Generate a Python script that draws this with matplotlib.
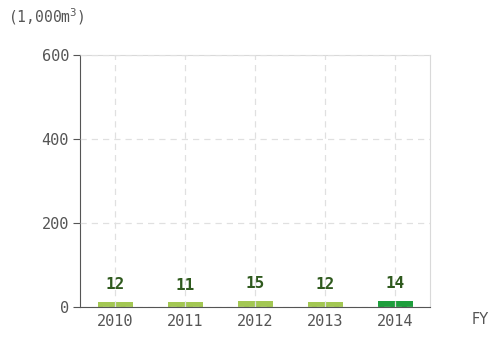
import matplotlib
matplotlib.use("Agg")
import matplotlib.pyplot as plt

years = ["2010", "2011", "2012", "2013", "2014"]
values = [12, 11, 15, 12, 14]
bar_colors = ["#a3c753", "#a3c753", "#a3c753", "#a3c753", "#1e9e3c"]
yticks = [0, 200, 400, 600]

fig = plt.figure(figsize=(4.9, 3.38), dpi=100)
ax = fig.add_axes([80/490, 31/338, 350/490, 252/338])

x = range(len(years))
ax.bar(x, values, width=0.5, color=bar_colors, zorder=2)
for i, v in zip(x, values):
    ax.annotate(str(v), (i, v), xytext=(0, 7), textcoords="offset points",
                ha="center", va="bottom", fontsize=11.5, color="#2f5a1e",
                family="DejaVu Sans Mono", weight="semibold")

ax.set_xlim(-0.5, len(years) - 0.5)
ax.set_ylim(0, 600)
ax.set_xticks(list(x))
ax.set_xticklabels(years)
ax.set_yticks(yticks)

ax.grid(True, color="#e0e0e0", linestyle=(0, (5, 4)), linewidth=0.9, zorder=3)
ax.set_axisbelow(False)
for s in ["top", "right"]:
    ax.spines[s].set_color("#d9d9d9")
for s in ["left", "bottom"]:
    ax.spines[s].set_color("#555555")
ax.tick_params(axis="x", length=0, pad=5, labelsize=11, labelcolor="#555555")
ax.tick_params(axis="y", length=5, width=0.8, color="#555555", pad=3,
               labelsize=11, labelcolor="#555555")
for lbl in ax.get_xticklabels() + ax.get_yticklabels():
    lbl.set_family("DejaVu Sans Mono")

fig.text(8/490, 1 - 17/338, "(1,000m$^3$)", fontsize=10.5, color="#555555",
         family="DejaVu Sans Mono", va="center")
fig.text(480/490, 1 - 320/338, "FY", fontsize=10.5, color="#555555",
         ha="center", va="center")

fig.savefig("out.png", dpi=100)
